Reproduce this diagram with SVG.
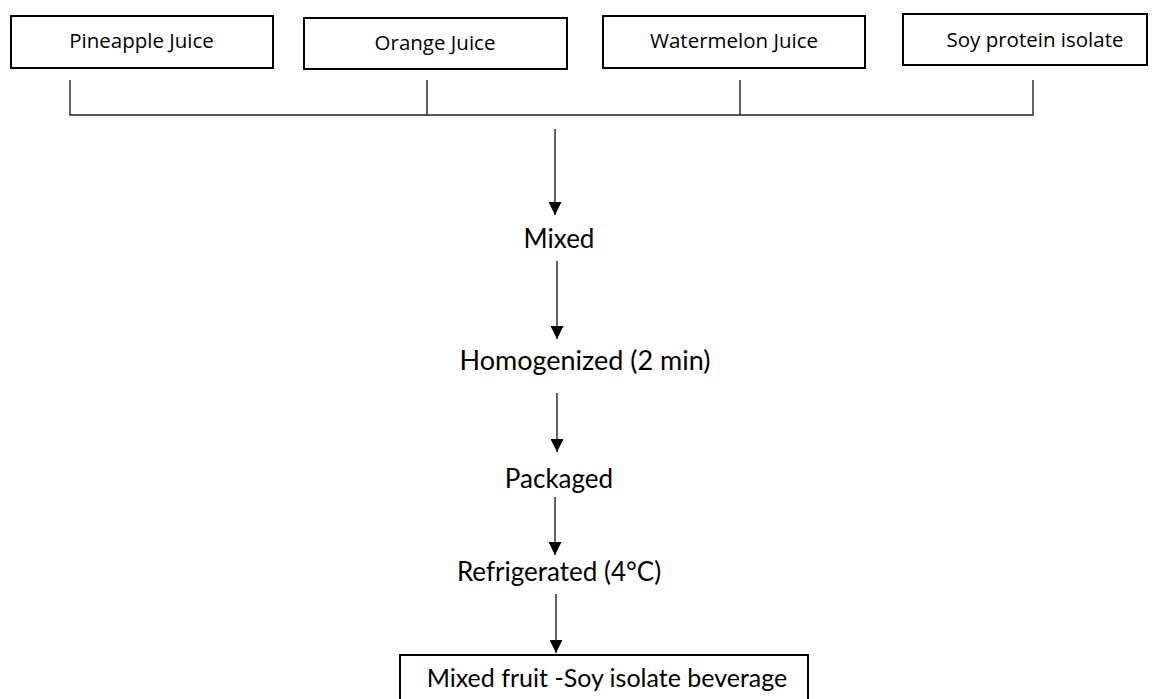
<svg xmlns="http://www.w3.org/2000/svg" width="1153" height="699" viewBox="0 0 1153 699">
<style>
.box{fill:#fff;stroke:#000;stroke-width:2}
.top{font-family:"Open Sans","Liberation Sans",sans-serif;font-size:20.5px;fill:#000;text-anchor:middle}
.step{font-family:"Lato","Liberation Sans",sans-serif;font-size:26px;fill:#000;text-anchor:middle}
.ln{stroke:#222;stroke-width:1.4;fill:none}
</style>
<defs>
<marker id="ah" markerUnits="userSpaceOnUse" markerWidth="14" markerHeight="13" refX="13" refY="6.5" orient="auto">
<path d="M0,0 L13,6.5 L0,13 Z" fill="#000"/>
</marker>
</defs>
<g id="n-pineapple"><rect class="box" x="11" y="16" width="262" height="52"/><text class="top" x="141.5" y="48">Pineapple Juice</text></g>
<g id="n-orange"><rect class="box" x="304" y="18" width="263" height="51"/><text class="top" x="435" y="50">Orange Juice</text></g>
<g id="n-watermelon"><rect class="box" x="603" y="16" width="262" height="52"/><text class="top" x="734" y="48">Watermelon Juice</text></g>
<g id="n-soy"><rect class="box" x="903" y="14" width="244" height="51"/><text class="top" x="1035" y="47">Soy protein isolate</text></g>
<g id="n-mixed"><text class="step" x="559" y="248">Mixed</text></g>
<g id="n-homog"><text class="step" x="585" y="370" style="font-size:27px">Homogenized (2 min)</text></g>
<g id="n-pack"><text class="step" x="559" y="488">Packaged</text></g>
<g id="n-refrig"><text class="step" x="559" y="581">Refrigerated (4°C)</text></g>
<g id="n-bev"><rect class="box" x="400" y="655" width="408" height="50"/><text class="step" x="607" y="687" style="font-size:25px">Mixed fruit -Soy isolate beverage</text></g>
<g id="connectors">
<path class="ln" d="M70,80 V115 H1033 V80 M427,80 V115 M740,80 V115"/>
<line class="ln" x1="555" y1="129" x2="555" y2="215" marker-end="url(#ah)"/>
<line class="ln" x1="557" y1="261" x2="557" y2="339" marker-end="url(#ah)"/>
<line class="ln" x1="557" y1="393" x2="557" y2="452" marker-end="url(#ah)"/>
<line class="ln" x1="555" y1="497" x2="555" y2="555" marker-end="url(#ah)"/>
<line class="ln" x1="556" y1="594" x2="556" y2="653" marker-end="url(#ah)"/>
</g>
</svg>
